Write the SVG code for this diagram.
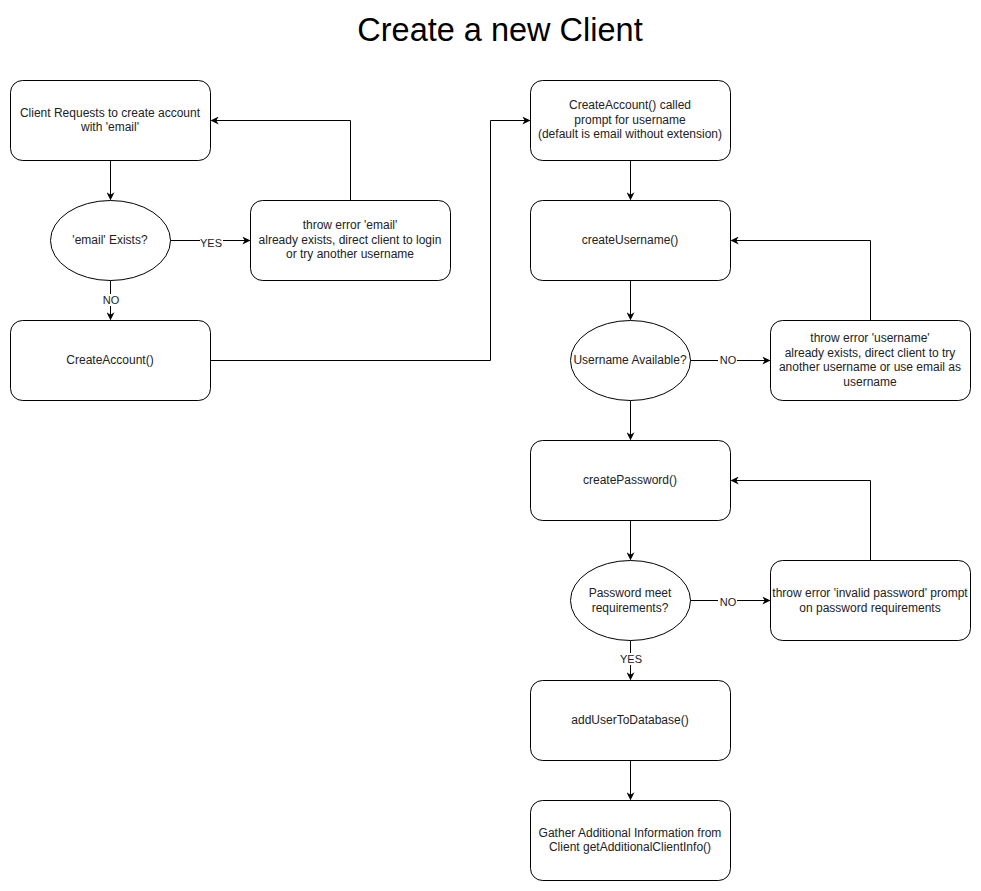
<svg xmlns="http://www.w3.org/2000/svg" width="981" height="891" viewBox="0 0 981 891">
<defs>
<marker id="arr" viewBox="0 0 10 10" refX="9" refY="5" markerWidth="8" markerHeight="8" markerUnits="userSpaceOnUse" orient="auto">
<path d="M0,0 L10,5 L0,10 L3,5 Z" fill="#000"/>
</marker>
<style>
.n{fill:#fff;stroke:#000;stroke-width:1}
.t{font-family:"Liberation Sans",Arial,sans-serif;font-size:12px;fill:#222;text-anchor:middle}
.c{fill:none;stroke:#000;stroke-width:1;marker-end:url(#arr)}
.lb{fill:#fff}
</style>
</defs>
<rect width="981" height="891" fill="#fff"/>
<text x="500" y="41" style="font-family:'Liberation Sans',Arial,sans-serif;font-size:32.5px;text-anchor:middle;fill:#000">Create a new Client</text>

<g id="connectors">
<path class="c" d="M110.5,160.5 L110.5,199.5"/>
<path class="c" d="M170.5,240.5 L249.5,240.5"/>
<path class="c" d="M350.5,200.5 L350.5,120.5 L211.5,120.5"/>
<path class="c" d="M110.5,280.5 L110.5,319.5"/>
<path class="c" d="M210.5,360.5 L490.5,360.5 L490.5,120.5 L529.5,120.5"/>
<path class="c" d="M630.5,160.5 L630.5,199.5"/>
<path class="c" d="M630.5,280.5 L630.5,319.5"/>
<path class="c" d="M690.5,360.5 L769.5,360.5"/>
<path class="c" d="M870.5,320.5 L870.5,240.5 L731.5,240.5"/>
<path class="c" d="M630.5,400.5 L630.5,439.5"/>
<path class="c" d="M630.5,520.5 L630.5,559.5"/>
<path class="c" d="M690.5,600.5 L769.5,600.5"/>
<path class="c" d="M870.5,560.5 L870.5,480.5 L731.5,480.5"/>
<path class="c" d="M630.5,640.5 L630.5,679.5"/>
<path class="c" d="M630.5,760.5 L630.5,799.5"/>
<rect class="lb" x="200" y="236" width="23" height="12"/>
<text class="t" x="211" y="247" style="font-size:11px">YES</text>
<rect class="lb" x="101" y="294" width="19" height="12"/>
<text class="t" x="111" y="304" style="font-size:11px">NO</text>
<rect class="lb" x="718" y="354" width="19" height="12"/>
<text class="t" x="728" y="364" style="font-size:11px">NO</text>
<rect class="lb" x="718" y="596" width="19" height="12"/>
<text class="t" x="728" y="606" style="font-size:11px">NO</text>
<rect class="lb" x="619" y="653" width="23" height="12"/>
<text class="t" x="631" y="663" style="font-size:11px">YES</text>
</g>

<g id="clientRequest">
<rect class="n" x="10.5" y="80.5" width="200" height="80" rx="12"/>
<text class="t" x="110" y="117">Client Requests to create account</text>
<text class="t" x="110" y="131">with 'email'</text>
</g>
<g id="emailExists">
<ellipse class="n" cx="110.5" cy="240.5" rx="60" ry="40"/>
<text class="t" x="110" y="244">'email' Exists?</text>
</g>
<g id="emailError">
<rect class="n" x="250.5" y="200.5" width="200" height="80" rx="12"/>
<text class="t" x="350" y="229">throw error 'email'</text>
<text class="t" x="350" y="244">already exists, direct client to login</text>
<text class="t" x="350" y="258">or try another username</text>
</g>
<g id="createAccount">
<rect class="n" x="10.5" y="320.5" width="200" height="80" rx="12"/>
<text class="t" x="110" y="364">CreateAccount()</text>
</g>
<g id="createAccountCalled">
<rect class="n" x="530.5" y="80.5" width="200" height="80" rx="12"/>
<text class="t" x="630" y="109">CreateAccount() called</text>
<text class="t" x="630" y="124">prompt for username</text>
<text class="t" x="630" y="138">(default is email without extension)</text>
</g>
<g id="createUsername">
<rect class="n" x="530.5" y="200.5" width="200" height="80" rx="12"/>
<text class="t" x="630" y="244">createUsername()</text>
</g>
<g id="usernameAvailable">
<ellipse class="n" cx="630.5" cy="360.5" rx="60" ry="40"/>
<text class="t" x="630" y="364">Username Available?</text>
</g>
<g id="usernameError">
<rect class="n" x="770.5" y="320.5" width="200" height="80" rx="12"/>
<text class="t" x="870" y="342">throw error 'username'</text>
<text class="t" x="870" y="357">already exists, direct client to try</text>
<text class="t" x="870" y="371">another username or use email as</text>
<text class="t" x="870" y="386">username</text>
</g>
<g id="createPassword">
<rect class="n" x="530.5" y="440.5" width="200" height="80" rx="12"/>
<text class="t" x="630" y="484">createPassword()</text>
</g>
<g id="passwordMeet">
<ellipse class="n" cx="630.5" cy="600.5" rx="60" ry="40"/>
<text class="t" x="630" y="597">Password meet</text>
<text class="t" x="630" y="612">requirements?</text>
</g>
<g id="passwordError">
<rect class="n" x="770.5" y="560.5" width="200" height="80" rx="12"/>
<text class="t" x="870" y="597">throw error 'invalid password' prompt</text>
<text class="t" x="870" y="612">on password requirements</text>
</g>
<g id="addUser">
<rect class="n" x="530.5" y="680.5" width="200" height="80" rx="12"/>
<text class="t" x="630" y="724">addUserToDatabase()</text>
</g>
<g id="gatherInfo">
<rect class="n" x="530.5" y="800.5" width="200" height="80" rx="12"/>
<text class="t" x="630" y="837">Gather Additional Information from</text>
<text class="t" x="630" y="851">Client getAdditionalClientInfo()</text>
</g>
</svg>
